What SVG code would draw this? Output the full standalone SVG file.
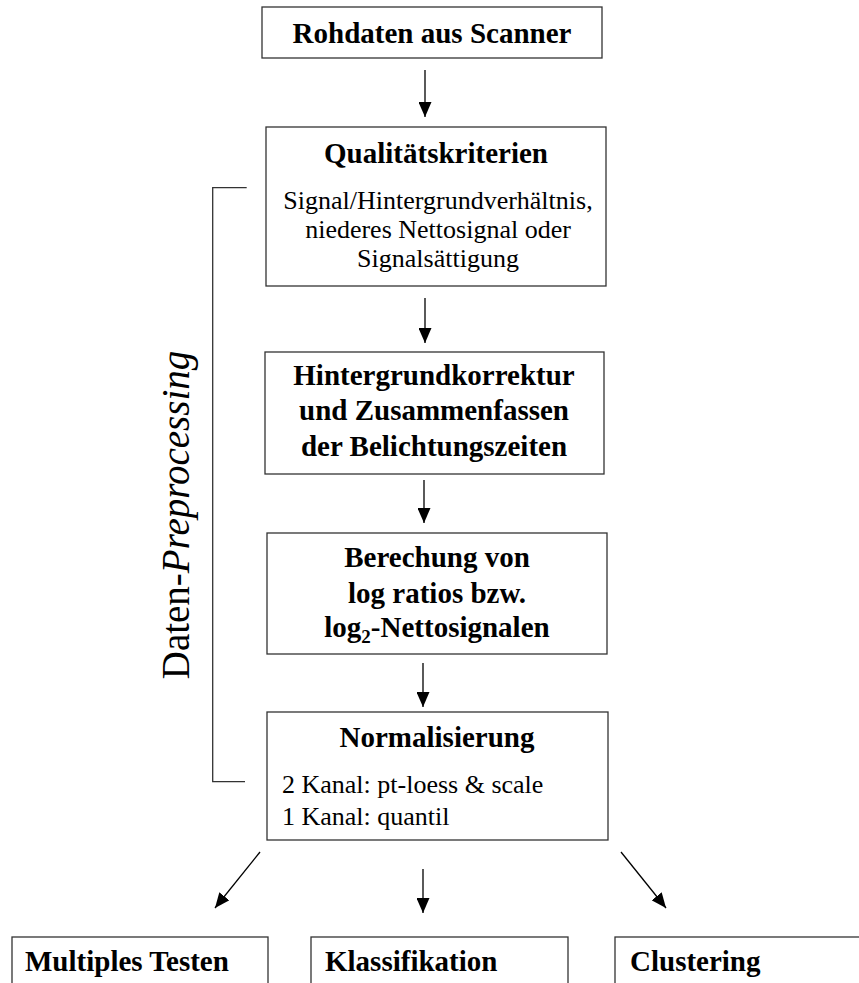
<svg xmlns="http://www.w3.org/2000/svg" width="859" height="983" viewBox="0 0 859 983">
<style>
.box{fill:#fff;stroke:#333;stroke-width:1.3}
.b{font-family:"Liberation Serif","Times New Roman",serif;font-weight:bold;font-size:29px;fill:#000}
.r{font-family:"Liberation Serif","Times New Roman",serif;font-size:26px;fill:#000}
.v{font-family:"Liberation Serif","Times New Roman",serif;font-size:39px;fill:#000}
.c{text-anchor:middle}
.ln{stroke:#000;stroke-width:1.3;fill:none}
.br{stroke:#333;stroke-width:1.3;fill:none}
</style>
<defs>
<marker id="ah" markerUnits="userSpaceOnUse" viewBox="0 0 15 13" markerWidth="15" markerHeight="13" refX="15" refY="6.5" orient="auto">
<path d="M0,0 L15,6.5 L0,13 Z" fill="#000"/>
</marker>
</defs>
<rect width="859" height="983" fill="#fff"/>
<g id="n1">
<rect class="box" x="262" y="7" width="340" height="51"/>
<text class="b c" x="432" y="43">Rohdaten aus Scanner</text>
</g>
<g id="n2">
<rect class="box" x="266" y="127" width="340" height="159"/>
<text class="b c" x="436" y="163">Qualitätskriterien</text>
<text class="r c" x="438" y="209">Signal/Hintergrundverhältnis,</text>
<text class="r c" x="438" y="238">niederes Nettosignal oder</text>
<text class="r c" x="438" y="267">Signalsättigung</text>
</g>
<g id="n3">
<rect class="box" x="265" y="352" width="339" height="122"/>
<text class="b c" x="434" y="385">Hintergrundkorrektur</text>
<text class="b c" x="434" y="420">und Zusammenfassen</text>
<text class="b c" x="434" y="456">der Belichtungszeiten</text>
</g>
<g id="n4">
<rect class="box" x="267" y="533" width="340" height="121"/>
<text class="b c" x="437" y="567">Berechung von</text>
<text class="b c" x="437" y="603">log ratios bzw.</text>
<text class="b c" x="437" y="637">log<tspan font-size="19" dy="6">2</tspan><tspan dy="-6">-Nettosignalen</tspan></text>
</g>
<g id="n5">
<rect class="box" x="267" y="712" width="341" height="128"/>
<text class="b c" x="437" y="747">Normalisierung</text>
<text class="r" x="282" y="793">2 Kanal: pt-loess &amp; scale</text>
<text class="r" x="282" y="825">1 Kanal: quantil</text>
</g>
<g id="n6">
<rect class="box" x="12" y="937" width="256" height="70"/>
<text class="b" x="25" y="971">Multiples Testen</text>
</g>
<g id="n7">
<rect class="box" x="311" y="937" width="257" height="70"/>
<text class="b" x="325" y="971">Klassifikation</text>
</g>
<g id="n8">
<rect class="box" x="615" y="937" width="262" height="70"/>
<text class="b" x="630" y="971">Clustering</text>
</g>
<g id="bracket">
<polyline class="br" points="246.7,187.7 212.7,187.7 212.7,781.7 245,781.7"/>
<text class="v" text-anchor="middle" transform="translate(189,515) rotate(-90)">Daten-<tspan font-style="italic">Preprocessing</tspan></text>
</g>
<g id="connectors">
<line class="ln" x1="425" y1="70" x2="425" y2="117" marker-end="url(#ah)"/>
<line class="ln" x1="425" y1="298" x2="425" y2="343" marker-end="url(#ah)"/>
<line class="ln" x1="424" y1="480" x2="424" y2="523" marker-end="url(#ah)"/>
<line class="ln" x1="423" y1="663" x2="423" y2="707" marker-end="url(#ah)"/>
<line class="ln" x1="260" y1="852" x2="215" y2="908" marker-end="url(#ah)"/>
<line class="ln" x1="423" y1="869" x2="423" y2="913" marker-end="url(#ah)"/>
<line class="ln" x1="621" y1="852" x2="666" y2="908" marker-end="url(#ah)"/>
</g>
</svg>
